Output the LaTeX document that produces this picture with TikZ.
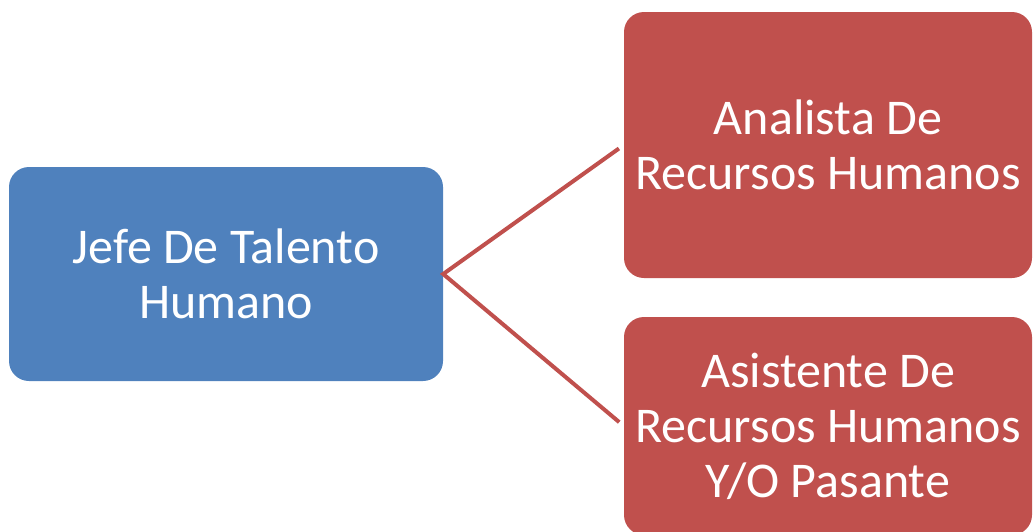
\documentclass[tikz,border=0pt]{standalone}
\usepackage{fontspec}
\setmainfont{Carlito}
\usepackage{xcolor}
\usetikzlibrary{positioning}
\definecolor{boxblue}{HTML}{4F81BD}
\definecolor{boxred}{HTML}{C0504D}
\tikzset{
  box/.style={rounded corners=20pt, text=white, align=center, inner sep=0pt,
    font=\fontsize{50}{55}\selectfont},
  link/.style={draw=boxred, line width=4pt, shorten <=6pt, shorten >=6pt}
}

\begin{document}
\begin{tikzpicture}[x=1pt,y=-1pt]
  % Define frame
  \useasboundingbox (0,0) rectangle (1034,531);
  \clip (0,0) rectangle (1034,531);
  % Draw boxes
  \node[box, fill=boxblue, minimum width=434pt, minimum height=214pt] (jefe) at (226,274) {Jefe De Talento\\Humano};
  \node[box, fill=boxred, minimum width=408pt, minimum height=266pt] (analista) at (828,145) {Analista De\\Recursos Humanos};
  \node[box, fill=boxred, minimum width=408pt, minimum height=218pt] (asistente) at (828,426) {Asistente De\\Recursos Humanos\\Y/O Pasante};
  % Draw links
  \draw[link] (analista.west) -- (jefe.east) -- (asistente.west);
\end{tikzpicture}
\end{document}
